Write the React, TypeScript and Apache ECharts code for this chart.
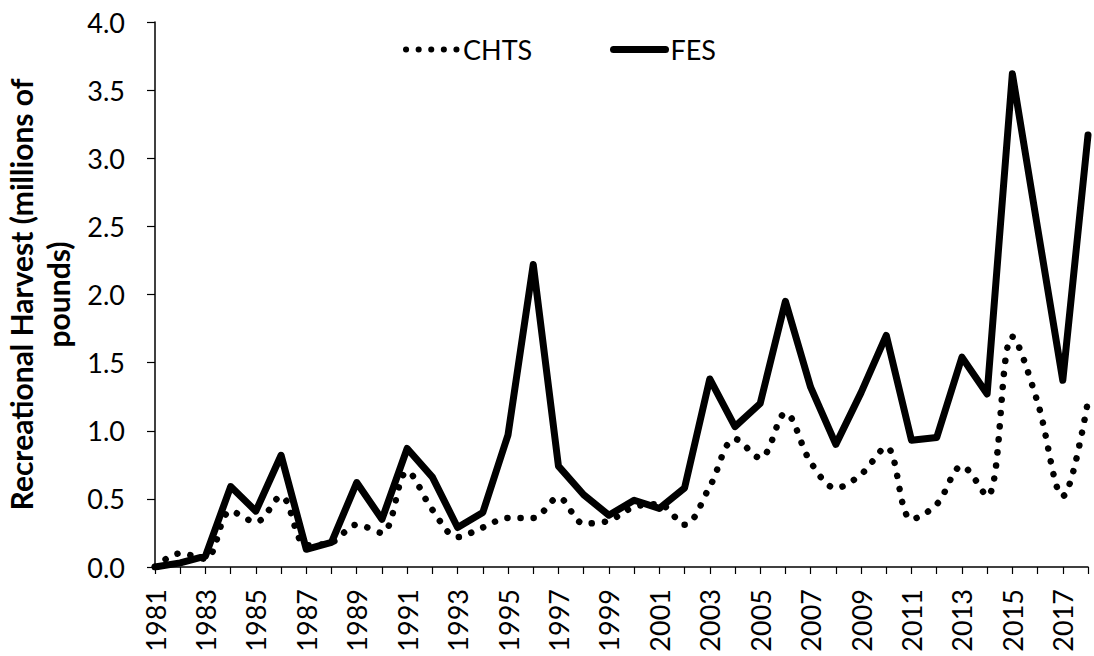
import React, { useEffect, useRef } from "react";
import * as echarts from "echarts";

const years: string[] = [
  "1981","1982","1983","1984","1985","1986","1987","1988","1989","1990",
  "1991","1992","1993","1994","1995","1996","1997","1998","1999","2000",
  "2001","2002","2003","2004","2005","2006","2007","2008","2009","2010",
  "2011","2012","2013","2014","2015","2016","2017","2018",
];

const chts: number[] = [
  0.0, 0.1, 0.06, 0.41, 0.33, 0.52, 0.16, 0.18, 0.31, 0.25,
  0.7, 0.42, 0.22, 0.29, 0.36, 0.36, 0.51, 0.32, 0.34, 0.44,
  0.46, 0.31, 0.59, 0.94, 0.8, 1.13, 0.77, 0.58, 0.68, 0.88,
  0.35, 0.46, 0.74, 0.52, 1.69, 1.21, 0.52, 1.22,
];

const fes: number[] = [
  0.0, 0.03, 0.08, 0.59, 0.41, 0.82, 0.13, 0.18, 0.62, 0.35,
  0.87, 0.66, 0.29, 0.4, 0.97, 2.22, 0.74, 0.53, 0.38, 0.49,
  0.43, 0.58, 1.38, 1.03, 1.2, 1.95, 1.32, 0.9, 1.28, 1.7,
  0.93, 0.95, 1.54, 1.27, 3.62, 2.49, 1.37, 3.17,
];

const yTicks = { min: 0, max: 4, interval: 0.5 };

const FONT = "Lato, 'Open Sans', sans-serif";
const FS = 27;

export default function App() {
  const ref = useRef<HTMLDivElement>(null);
  useEffect(() => {
    document.body.style.margin = "0";
    if (!ref.current) return;
    const chart = echarts.init(ref.current, undefined, { renderer: "svg" });
    const legendCommon = {
      top: 31,
      itemWidth: 52,
      itemHeight: 14,
      itemStyle: { opacity: 0 },
      textStyle: { fontFamily: FONT, fontSize: FS, color: "#000", padding: [0, 0, 0, 0] },
    };
    chart.setOption({
      animation: false,
      backgroundColor: "#ffffff",
      textStyle: { fontFamily: FONT },
      legend: [
        {
          ...legendCommon,
          left: 398,
          data: ["CHTS"],
          lineStyle: { color: "#000", width: 6, type: [0.1, 12.5], cap: "round" },
        },
        {
          ...legendCommon,
          left: 605,
          data: ["FES"],
          lineStyle: { color: "#000", width: 7, cap: "round" },
        },
      ],
      grid: {
        left: 155,
        right: 6,
        top: 22,
        bottom: 89,
        containLabel: false,
        outerBoundsMode: "none",
      },
      xAxis: {
        type: "category",
        data: years,
        boundaryGap: false,
        axisLine: { lineStyle: { color: "#000", width: 1.5 } },
        axisTick: { show: true, interval: 0, length: 7, lineStyle: { color: "#000", width: 1.2 } },
        axisLabel: {
          interval: 1,
          rotate: 90,
          margin: 22,
          color: "#000",
          fontSize: FS,
          fontFamily: FONT,
        },
        splitLine: { show: false },
      },
      yAxis: {
        type: "value",
        min: yTicks.min,
        max: yTicks.max,
        interval: yTicks.interval,
        name: "Recreational Harvest (millions of\npounds)",
        nameLocation: "middle",
        nameGap: 79,
        nameRotate: 90,
        nameTextStyle: {
          fontFamily: FONT,
          fontSize: 30,
          fontWeight: "bold",
          color: "#000",
          lineHeight: 37,
        },
        axisLine: { show: true, lineStyle: { color: "#000", width: 1.5 } },
        axisTick: { show: true, length: 8, lineStyle: { color: "#000", width: 1.2 } },
        axisLabel: {
          color: "#000",
          fontSize: FS,
          fontFamily: FONT,
          margin: 30,
          formatter: (v: number) => v.toFixed(1),
        },
        splitLine: { show: false },
      },
      series: [
        {
          name: "CHTS",
          type: "line",
          data: chts,
          smooth: 0.35,
          symbol: "none",
          lineStyle: { color: "#000", width: 6.5, type: [0.1, 13], cap: "round" },
          itemStyle: { color: "#000" },
          z: 2,
        },
        {
          name: "FES",
          type: "line",
          data: fes,
          symbol: "none",
          lineStyle: { color: "#000", width: 7, cap: "round", join: "round" },
          itemStyle: { color: "#000" },
          z: 3,
        },
      ],
    });
    return () => chart.dispose();
  }, []);
  return <div ref={ref} style={{ width: 1094, height: 656 }} />;
}
